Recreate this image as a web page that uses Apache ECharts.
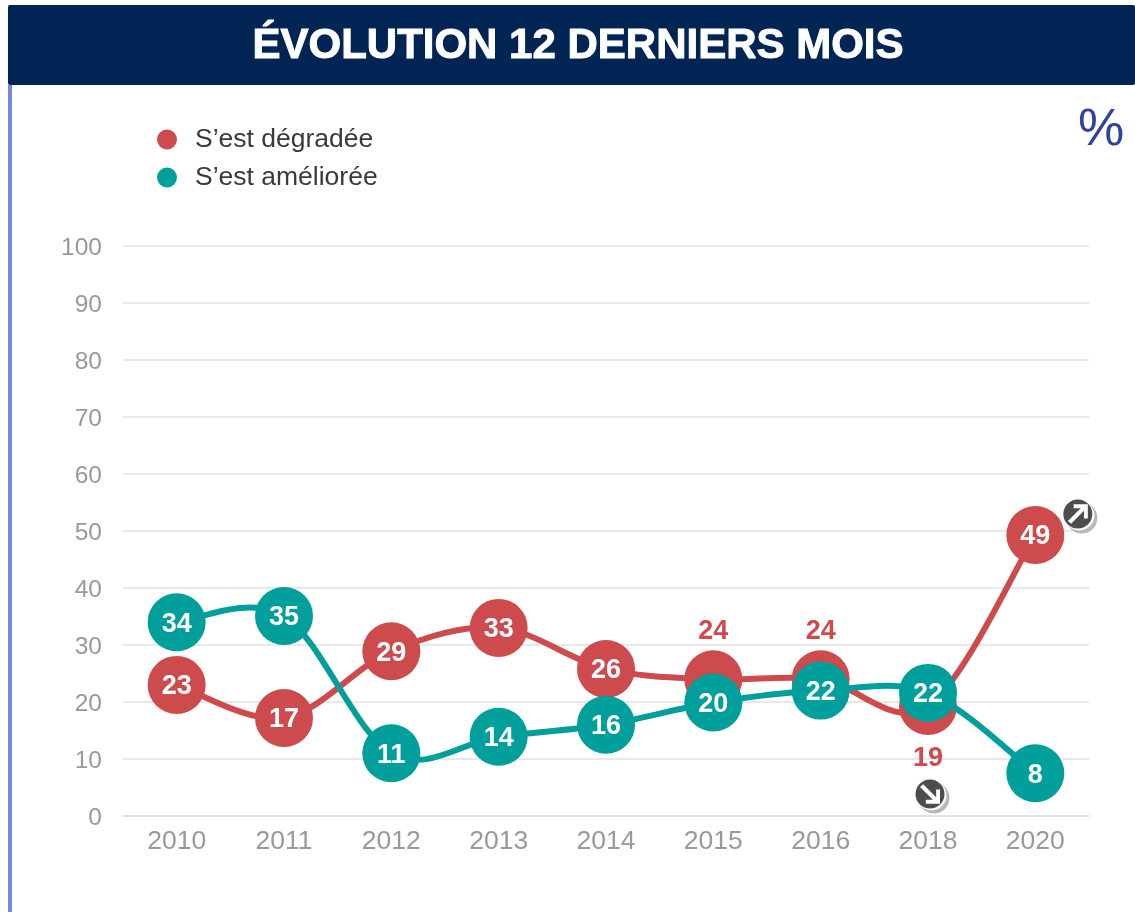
<!DOCTYPE html>
<html><head><meta charset="utf-8">
<style>html,body{margin:0;padding:0;background:#fff}#c{width:1135px;height:912px}</style>
<script src="https://cdn.jsdelivr.net/npm/echarts@6/dist/echarts.min.js"></script>
</head><body><div id="c"></div>
<script>
const years = ['2010','2011','2012','2013','2014','2015','2016','2018','2020'];
const degradee = [23,17.2,28.9,33,25.8,24,24,19.3,49.3];
const amelioree = [34,35.1,11,13.9,16,19.9,22,21.6,7.5];
const redOutsideTop = [5,6];
const redOutsideBottom = [7];
const titleText = 'ÉVOLUTION 12 DERNIERS MOIS';
const unitText = '%';
const RED = '#cd4b4d', TEAL = '#009f9c';
const FONT = '"Liberation Sans", Arial, sans-serif';
const arrowNE = 'path://M-7 3.5 L3 -6.5 L-2.5 -6.5 L-2.5 -9.5 L8.5 -9.5 L8.5 1.5 L5.5 1.5 L5.5 -4.5 L-4.5 5.5 Z';
const arrowSE = 'path://M-7 -3.5 L3 6.5 L-2.5 6.5 L-2.5 9.5 L8.5 9.5 L8.5 -1.5 L5.5 -1.5 L5.5 4.5 L-4.5 -5.5 Z';

function badge(cat, val, dx, dy, arrow) {
  const coord = [cat, val];
  return [
    {coord, symbol:'circle', symbolSize:31, symbolOffset:[dx+4,dy+4], itemStyle:{color:'#b8b8b8'}},
    {coord, symbol:'circle', symbolSize:30, symbolOffset:[dx+1.5,dy+1.5], itemStyle:{color:'#ffffff'}},
    {coord, symbol:'circle', symbolSize:29, symbolOffset:[dx,dy], itemStyle:{color:'#4d4d4d'}},
    {coord, symbol:arrow, symbolSize:[20,20], symbolOffset:[dx,dy], symbolKeepAspect:true, itemStyle:{color:'#ffffff'}}
  ];
}

// Cardinal-spline segments (may overshoot, unlike the built-in smooth line), placed by the axes.
function splineSeries(values, color, z) {
  return {
    type:'custom', coordinateSystem:'cartesian2d', z, silent:true,
    encode:{x:0,y:1}, clip:false,
    data:values.map((v,i)=>[i,v]),
    renderItem(params, api){
      const i = params.dataIndex;
      if (i >= values.length-1) return null;
      const pt = k => api.coord([Math.max(0,Math.min(values.length-1,k)), values[Math.max(0,Math.min(values.length-1,k))]]);
      const p0=pt(i-1), p1=pt(i), p2=pt(i+1), p3=pt(i+2);
      const T=1/6;
      return {type:'bezierCurve',
        shape:{x1:p1[0],y1:p1[1],x2:p2[0],y2:p2[1],
          cpx1:p1[0]+(p2[0]-p0[0])*T,cpy1:p1[1]+(p2[1]-p0[1])*T,
          cpx2:p2[0]-(p3[0]-p1[0])*T,cpy2:p2[1]-(p3[1]-p1[1])*T},
        style:{stroke:color,fill:null,lineWidth:6}};
    }
  };
}

const chart = echarts.init(document.getElementById('c'), null, {renderer:'canvas'});
chart.setOption({
  animation:false,
  backgroundColor:'#ffffff',
  title:{text:titleText,left:573,top:20,textAlign:'center',
    textStyle:{color:'#fff',fontFamily:FONT,fontWeight:'bold',fontSize:42,textBorderColor:'#fff',textBorderWidth:1}},
  graphic:[
    {type:'rect',z:-1,shape:{x:8,y:5,width:1127,height:80,r:2},style:{fill:'#002555'}},
    {type:'rect',z:-1,shape:{x:8,y:85,width:4,height:827},style:{fill:'#7689d9'}},
    {type:'text',z:5,left:1078,top:105,style:{text:unitText,font:'52px '+FONT,fill:'#2f439b'}}
  ],
  legend:{orient:'vertical',left:152,top:121,itemWidth:20,itemHeight:20,itemGap:11,icon:'circle',
    textStyle:{fontFamily:FONT,fontSize:26.5,color:'#3a3a3a',padding:[6,0,0,13]},
    data:[{name:'S’est dégradée'},{name:'S’est améliorée'}]},
  grid:{left:123,right:46,top:246,bottom:96},
  xAxis:{type:'category',data:years,boundaryGap:true,
    axisLine:{lineStyle:{color:'#e0e0e0',width:1.5}},axisTick:{show:false},
    axisLabel:{color:'#999',fontFamily:FONT,fontSize:26.5,margin:12}},
  yAxis:{type:'value',min:0,max:100,interval:10,
    axisLine:{show:false},axisTick:{show:false},
    axisLabel:{color:'#999',fontFamily:FONT,fontSize:24.5,margin:21,verticalAlign:'top',lineHeight:4},
    splitLine:{lineStyle:{color:'#e0e0e0',width:1.5}}},
  series:[
    splineSeries(degradee,RED,1),
    {name:'S’est dégradée',type:'line',z:2,
     data:degradee.map((v,i)=>{
       const top=redOutsideTop.includes(i), bot=redOutsideBottom.includes(i);
       return {value:v,label:(top||bot)?{position:top?'top':'bottom',color:RED,distance:top?5:10}:{position:'inside',color:'#fff',offset:[0,2]}};
     }),
     symbol:'circle',symbolSize:58,showAllSymbol:true,
     lineStyle:{width:0,color:RED},itemStyle:{color:RED},
     label:{show:true,fontFamily:FONT,fontWeight:'bold',fontSize:27,formatter:p=>Math.round(p.value)},
     markPoint:{silent:true,label:{show:false},data:badge(8,degradee[8],42.5,-21,arrowNE).concat(badge(7,degradee[7],2,88,arrowSE))}
    },
    splineSeries(amelioree,TEAL,3),
    {name:'S’est améliorée',type:'line',z:4,
     data:amelioree,symbol:'circle',symbolSize:58,showAllSymbol:true,
     lineStyle:{width:0,color:TEAL},itemStyle:{color:TEAL},
     label:{show:true,position:'inside',offset:[0,2],color:'#fff',fontFamily:FONT,fontWeight:'bold',fontSize:27,formatter:p=>Math.round(p.value)}
    }
  ]
});
</script></body></html>
